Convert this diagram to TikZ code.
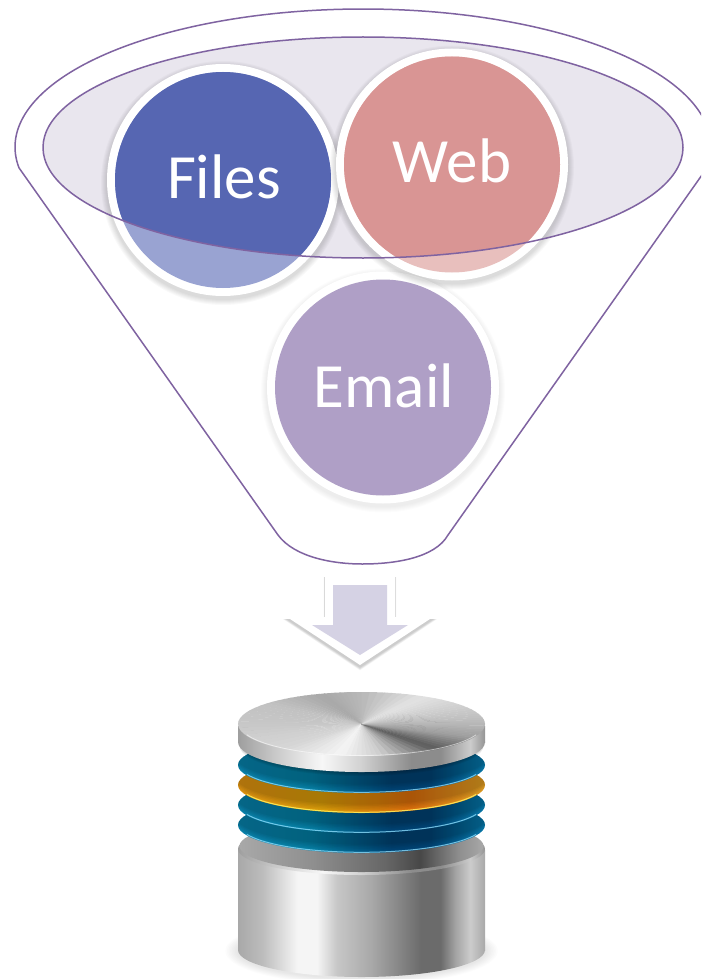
\documentclass[tikz,border=0pt]{standalone}
\usepackage{fontspec}
\setmainfont{Carlito}
\definecolor{sa}{gray}{.66}\definecolor{sb}{gray}{.74}\definecolor{sc}{gray}{.96}\definecolor{sd}{gray}{.78}\definecolor{se}{gray}{.66}\definecolor{sf}{gray}{.42}\definecolor{sg}{gray}{.64}\definecolor{sh}{gray}{.80}\definecolor{si}{gray}{.66}
\pgfdeclarehorizontalshading{metalbody}{100bp}{color(0bp)=(sa);color(25bp)=(sa);color(30bp)=(sb);color(37bp)=(sc);color(41bp)=(sc);color(45bp)=(sd);color(52bp)=(se);color(62bp)=(sf);color(66bp)=(sf);color(69bp)=(sg);color(72bp)=(sh);color(75bp)=(si);color(100bp)=(si)}
\definecolor{ra}{gray}{.62}\definecolor{rb}{gray}{.80}\definecolor{rc}{gray}{.97}\definecolor{rd}{gray}{.82}\definecolor{re}{gray}{.55}\definecolor{rf}{gray}{.55}\definecolor{rg}{gray}{.80}\definecolor{rh}{gray}{.58}
\pgfdeclarehorizontalshading{metalrim}{100bp}{color(0bp)=(ra);color(25bp)=(ra);color(33bp)=(rb);color(42bp)=(rc);color(50bp)=(rd);color(60bp)=(re);color(66bp)=(rf);color(72bp)=(rg);color(75bp)=(rh);color(100bp)=(rh)}
\definecolor{fa}{gray}{.66}\definecolor{fb}{gray}{.56}\definecolor{fc}{gray}{.40}\definecolor{fd}{gray}{.28}
\pgfdeclarehorizontalshading{metalface}{100bp}{color(0bp)=(fa);color(25bp)=(fa);color(40bp)=(fb);color(55bp)=(fc);color(62bp)=(fd);color(70bp)=(fb);color(75bp)=(fa);color(100bp)=(fa)}
\definecolor{ba}{HTML}{0C8FBC}\definecolor{bb}{HTML}{0888B0}\definecolor{bc}{HTML}{024A7E}\definecolor{bd}{HTML}{0B86BC}
\pgfdeclarehorizontalshading{bluedisc}{100bp}{color(0bp)=(ba);color(25bp)=(ba);color(40bp)=(bb);color(56bp)=(bc);color(64bp)=(bc);color(75bp)=(bd);color(100bp)=(bd)}
\definecolor{oa}{HTML}{F2A014}\definecolor{ob}{HTML}{EAA80C}\definecolor{oc}{HTML}{EC780E}\definecolor{od}{HTML}{F4AC28}
\pgfdeclarehorizontalshading{orangedisc}{100bp}{color(0bp)=(oa);color(25bp)=(oa);color(42bp)=(ob);color(60bp)=(oc);color(75bp)=(od);color(100bp)=(od)}
\definecolor{funline}{HTML}{7F63A1}
\definecolor{funfill}{HTML}{E9E6EE}
\definecolor{fdark}{HTML}{5666B2}\definecolor{flight}{HTML}{99A3D2}
\definecolor{wdark}{HTML}{D99594}\definecolor{wlight}{HTML}{E8BFBD}
\definecolor{emailc}{HTML}{AF9FC6}
\definecolor{arrowc}{HTML}{D5D2E4}
\tikzset{
  funnelline/.style={draw=funline,line width=1.5pt,line join=round},
  bubbletext/.style={text=white,anchor=base,inner sep=0pt,font=\fontsize{63}{63}\selectfont},
}
\newcommand{\softdisc}[4]{%
  \foreach \i in {1,...,6}{\fill[black,opacity=#4] (#1,#2+3) circle [radius=#3+\i];}%
  \fill[white] (#1,#2) circle [radius=#3];}
\newcommand{\layerdisc}[3]{%
  \shade[shading=#2] (361.5,#1) ellipse [x radius=123.5,y radius=28];
  \begin{scope}
    \clip (361.5,#1) ellipse [x radius=123.5,y radius=28];
    \foreach \i in {0,...,6}{\fill[black,opacity=.045] (361.5,#1-\i*1.4) ellipse [x radius=126,y radius=28];}
  \end{scope}
  \draw[#3,line width=1pt,opacity=.8] plot[domain=200:340,samples=40,smooth] ({361.5+122*cos(\x)},{#1-27.3*sin(\x)});}
\begin{document}
\begin{tikzpicture}[x=1pt,y=-1pt]
\useasboundingbox (0,0) rectangle (701,979);
\clip (0,0) rectangle (701,979);
\fill[white] (0,0) rectangle (701,979);
% funnel outline
\draw[funnelline] plot[domain=188.7:-8.7,samples=140] ({363+348*cos(\x)},{147-138*sin(\x)})
  -- (448,535) .. controls (435,558) and (395,564) .. (362,564)
  .. controls (335,564) and (295,558) .. (278,535) -- cycle;
% inner ellipse
\fill[funfill] (363,147.5) ellipse [x radius=320,y radius=110.5];
% email
\softdisc{383}{387.5}{116}{.012}
\fill[emailc] (383,387.5) circle [radius=108];
% files
\softdisc{223}{180}{116}{.025}
\fill[flight] (223,180) circle [radius=108];
\begin{scope}
  \clip (363,147.5) ellipse [x radius=320,y radius=110.5];
  \fill[fdark] (223,180) circle [radius=108];
\end{scope}
% web
\softdisc{452}{164.5}{116}{.025}
\fill[wlight] (452,164.5) circle [radius=108];
\begin{scope}
  \clip (363,147.5) ellipse [x radius=320,y radius=110.5];
  \fill[wdark] (452,164.5) circle [radius=108];
\end{scope}
\draw[funnelline] (363,147.5) ellipse [x radius=320,y radius=110.5];
\node[bubbletext] (files) at (224,198) {Files};
\node[bubbletext] (web) at (452,182) {Web};
\node[bubbletext] (email) at (384,407) {Email};
% arrow
\foreach \i in {1,...,4}{\fill[black,opacity=.05] (325-\i*.3,577) -- (395+\i*.3,577) -- (395+\i*.3,619) -- (433+\i,619) -- (360,667+\i*.8) -- (287-\i,619) -- (325-\i*.3,619) -- cycle;}
\fill[white] (325,577) -- (395,577) -- (395,617) -- (433,617) -- (360,665) -- (287,617) -- (325,617) -- cycle;
\fill[arrowc] (333,585) -- (387,585) -- (387,625) -- (408,625) -- (360,655) -- (312,625) -- (333,625) -- cycle;
% database: ground shadow
\foreach \i in {1,...,8}{\fill[black,opacity=.012] (361.5,951) ellipse [x radius=123.5+\i*1.6,y radius=27+\i*.9];}
% bottom cylinder
\shade[shading=metalbody] (238,850) rectangle (485,950);
\shade[shading=metalbody] (361.5,950) ellipse [x radius=123.5,y radius=27];
\shade[shading=metalrim] (361.5,849) ellipse [x radius=123.5,y radius=26];
\shade[shading=metalface] (361.5,846) ellipse [x radius=122,y radius=26];
% layers
\layerdisc{825}{bluedisc}{cyan!45!white}
\layerdisc{805}{bluedisc}{cyan!45!white}
\layerdisc{785}{orangedisc}{yellow!60!white}
\layerdisc{765}{bluedisc}{cyan!45!white}
% top disc
\foreach \i in {1,...,4}{\fill[black,opacity=.06] (361.5,742+\i) ellipse [x radius=122,y radius=30];}
\shade[shading=metalrim] (238,726) rectangle (485,742);
\shade[shading=metalrim] (361.5,742) ellipse [x radius=123.5,y radius=30];
\begin{scope}
  \clip (361.5,724) ellipse [x radius=123.5,y radius=32];
  \foreach \a/\b/\p/\q in {0/30/.72/.80,30/60/.80/.89,60/90/.89/.72,90/110/.72/.66,110/140/.66/.76,140/180/.76/.78,180/230/.78/.84,230/260/.84/.96,260/280/.96/.80,280/308/.80/.36,308/335/.36/.62,335/360/.62/.72}{
    \foreach \i in {0,...,7}{
      \pgfmathsetmacro{\aa}{\a+(\b-\a)*\i/8}
      \pgfmathsetmacro{\ab}{\a+(\b-\a)*(\i+1)/8+.6}
      \pgfmathsetmacro{\gv}{\p+(\q-\p)*(\i+.5)/8}
      \definecolor{wedgec}{gray}{\gv}
      \fill[wedgec] (361.5,724) -- ({361.5+130*cos(\aa)},{724-34*sin(\aa)}) -- ({361.5+130*cos(\ab)},{724-34*sin(\ab)}) -- cycle;
    }
  }
\end{scope}
\draw[white,line width=.8pt,opacity=.55] plot[domain=200:340,samples=40,smooth] ({361.5+122*cos(\x)},{724-31.5*sin(\x)});
\end{tikzpicture}
\end{document}
